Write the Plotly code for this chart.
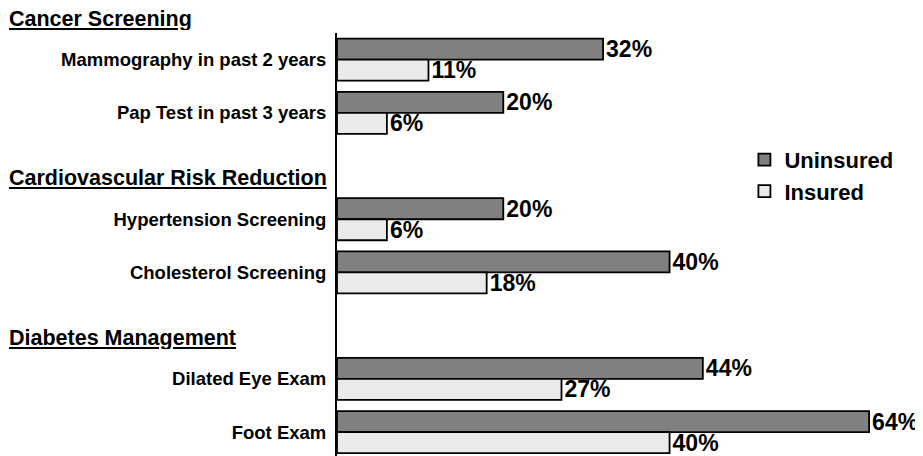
import plotly.graph_objects as go

# ---- data ----
groups = ["Cancer Screening", "Cardiovascular Risk Reduction", "Diabetes Management"]
categories = ["Mammography in past 2 years", "Pap Test in past 3 years",
              "Hypertension Screening", "Cholesterol Screening",
              "Dilated Eye Exam", "Foot Exam"]
category_group = [0, 0, 1, 1, 2, 2]
uninsured = [32, 20, 20, 40, 44, 64]
insured = [11, 6, 6, 18, 27, 40]
series_names = ["Uninsured", "Insured"]

# ---- layout of slots: one blank slot per group header, then its items ----
header_slot = {}
cat_pos = []
slot = -1
for i, g in enumerate(category_group):
    if g not in header_slot:
        header_slot[g] = slot
        slot += 1
    cat_pos.append(slot)
    slot += 1

Y_RANGE = [7.45, -0.5]   # reversed: first category on top
X_RANGE = [0, 70]
PLOT_W = 582
FONT = "Liberation Sans, Arial, sans-serif"

fig = go.Figure()
for name, vals, color in [(series_names[0], uninsured, "#808080"),
                          (series_names[1], insured, "#eaeaea")]:
    fig.add_trace(go.Bar(
        y=cat_pos, x=vals, orientation="h", name=name,
        marker=dict(color=color, line=dict(color="black", width=1.8)),
        text=[f"{v}%" for v in vals], textposition="outside",
        textfont=dict(family=FONT, size=23, color="black", weight="bold"),
        constraintext="none", cliponaxis=False,
    ))

def to_paper_y(v):
    return (Y_RANGE[0] - v) / (Y_RANGE[0] - Y_RANGE[1])

for g, name in enumerate(groups):
    fig.add_annotation(
        text=f"<b><u>{name}</u></b>", xref="paper", yref="paper",
        x=-329 / PLOT_W, y=to_paper_y(header_slot[g] + 0.23),
        xanchor="left", yanchor="middle", showarrow=False,
        height=22, borderpad=0,
        font=dict(family=FONT, size=21.5, color="black"),
    )

fig.update_layout(
    width=915, height=448,
    margin=dict(l=329, r=4, t=25, b=0),
    paper_bgcolor="white", plot_bgcolor="white",
    barmode="group", bargap=0.21, bargroupgap=0,
    showlegend=True,
    legend=dict(x=0.70, y=0.75, xanchor="left", yanchor="top",
                font=dict(family=FONT, size=22, color="black", weight="bold"),
                itemwidth=30, tracegroupgap=0, bgcolor="rgba(0,0,0,0)"),
    xaxis=dict(range=X_RANGE, visible=False, fixedrange=True),
    yaxis=dict(range=Y_RANGE, tickvals=cat_pos, ticktext=categories,
               showline=True, linecolor="black", linewidth=2,
               ticks="outside", ticklen=5, tickcolor="rgba(0,0,0,0)",
               showgrid=False, zeroline=False,
               tickfont=dict(family=FONT, size=18.5, color="black", weight="bold")),
)

fig.write_html("out.html")
